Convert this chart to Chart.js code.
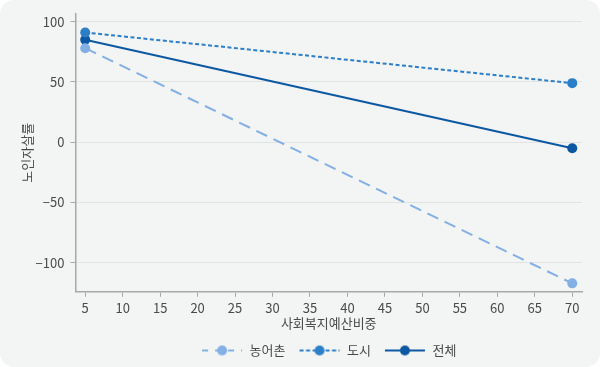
<!DOCTYPE html>
<html lang="ko">
<head>
<meta charset="UTF-8">
<title>노인자살률</title>
<script src="https://cdn.jsdelivr.net/npm/chart.js"></script>
<style>
  html, body { margin: 0; padding: 0; background: #fff; }
  #wrap { width: 600px; height: 367px; background: #f3f4f4; border-radius: 14px; overflow: hidden; }
</style>
</head>
<body>
<div id="wrap"><canvas id="chart" width="600" height="367"></canvas></div>
<script>
const xValues = [5, 70];
const rural = [78, -117];
const urban = [91, 49];
const total = [85, -5];
const xTicks = [5, 10, 15, 20, 25, 30, 35, 40, 45, 50, 55, 60, 65, 70];
const yTicks = [-100, -50, 0, 50, 100];

const FONT = '"Noto Sans CJK KR", "Noto Sans", sans-serif';
const TEXT = '#4a4a4a';
const AXIS = '#a8a8a8';

function pts(ys) { return xValues.map((x, i) => ({ x: x, y: ys[i] })); }

// small legend swatch: line with a dot in the middle
function swatch(color, dash) {
  const c = document.createElement('canvas');
  c.width = 42; c.height = 12;
  const g = c.getContext('2d');
  g.strokeStyle = color;
  g.lineWidth = 2;
  g.setLineDash(dash);
  g.beginPath();
  g.moveTo(1, 6); g.lineTo(41, 6);
  g.stroke();
  g.fillStyle = color;
  g.beginPath();
  g.arc(21, 6, 5, 0, Math.PI * 2);
  g.fill();
  return c;
}

const series = [
  { label: '농어촌', data: rural, color: '#82b0e4', dash: [12, 7], lg: [6, 7] },
  { label: '도시', data: urban, color: '#2b7fc8', dash: [4, 2.5], lg: [4, 2.5] },
  { label: '전체', data: total, color: '#0c58a2', dash: [], lg: [] }
];

// keep the legend centred under the plot area
const legendShift = {
  id: 'legendShift',
  afterLayout(chart) {
    const lg = chart.legend, a = chart.chartArea;
    const d = (a.left + a.right) / 2 - (lg.left + lg.right) / 2;
    lg.left += d; lg.right += d;
  }
};

new Chart(document.getElementById('chart'), {
  type: 'line',
  data: {
    datasets: series.map(s => ({
      label: s.label,
      data: pts(s.data),
      borderColor: s.color,
      backgroundColor: s.color,
      borderWidth: 2,
      borderDash: s.dash,
      pointRadius: 5,
      pointHoverRadius: 5,
      pointBorderWidth: 0,
      fill: false,
      tension: 0
    }))
  },
  plugins: [legendShift],
  options: {
    responsive: false,
    animation: false,
    layout: { padding: { left: 19, right: 18, top: 13, bottom: 0 } },
    plugins: {
      tooltip: { enabled: false },
      legend: {
        position: 'bottom',
        labels: {
          usePointStyle: true,
          pointStyleWidth: 42,
          padding: 13,
          color: TEXT,
          font: { family: FONT, size: 13 },
          generateLabels: chart => series.map((s, i) => ({
            text: s.label,
            pointStyle: swatch(s.color, s.lg),
            fillStyle: s.color,
            strokeStyle: s.color,
            lineWidth: 0,
            fontColor: TEXT,
            hidden: false,
            datasetIndex: i
          }))
        }
      }
    },
    scales: {
      x: {
        type: 'linear',
        min: 3.7,
        max: 71.3,
        afterBuildTicks: axis => { axis.ticks = xTicks.map(v => ({ value: v })); },
        grid: { drawOnChartArea: false, color: AXIS, tickLength: 5 },
        border: { color: AXIS, width: 1.5 },
        ticks: { color: TEXT, font: { family: FONT, size: 13 }, padding: 3, maxRotation: 0 },
        title: { display: true, text: '사회복지예산비중', color: TEXT, font: { family: FONT, size: 13 }, padding: { top: -3, bottom: 0 } }
      },
      y: {
        min: -124,
        max: 106.5,
        afterBuildTicks: axis => { axis.ticks = yTicks.map(v => ({ value: v })); },
        grid: { color: '#e2e3e3', tickColor: AXIS, tickLength: 5, lineWidth: 1 },
        border: { color: AXIS, width: 1.5 },
        ticks: { color: TEXT, font: { family: FONT, size: 13 }, padding: 6,
          callback: v => v < 0 ? '\u2212' + Math.abs(v) : String(v) },
        title: { display: true, text: '노인자살률', color: TEXT, font: { family: FONT, size: 13 }, padding: { top: 0, bottom: -5 } }
      }
    }
  }
});
</script>
</body>
</html>
